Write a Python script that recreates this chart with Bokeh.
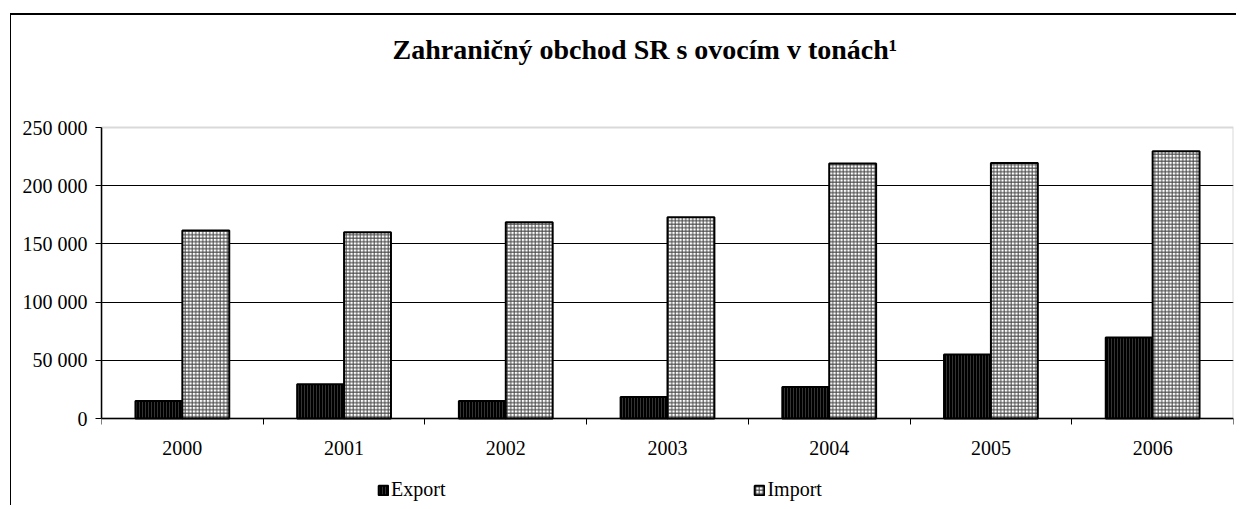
from bokeh.plotting import figure
from bokeh.models import Range1d, FixedTicker, Legend, LegendItem, ColumnDataSource, BoxAnnotation
from bokeh.embed import file_html
from bokeh.resources import INLINE

years = ["2000", "2001", "2002", "2003", "2004", "2005", "2006"]
export_t = [15000, 29500, 15000, 18500, 27000, 55000, 69500]
import_t = [161500, 160000, 168500, 173000, 219000, 219500, 229500]
y_ticks = [0, 50000, 100000, 150000, 200000, 250000]
y_tick_labels = ["0", "50 000", "100 000", "150 000", "200 000", "250 000"]
title_text = "Zahraničný obchod SR s ovocím v tonách\u00b9"

FONT = "Liberation Serif"
W, H = 1226, 492
FRAME_TOP = 51      # canvas px where the frame starts
PX_MAX = 112        # canvas px of the top value axis line
PX_ZERO = 403       # canvas px of the zero line
y_max = y_ticks[-1]
unit = y_max / (PX_ZERO - PX_MAX)
y_end = y_max + (PX_MAX - FRAME_TOP) * unit
y_start = -(H - PX_ZERO) * unit

bw = 0.29
centers = [i + 0.5 for i in range(len(years))]
src = ColumnDataSource(dict(
    xe=[c - bw / 2 for c in centers],
    xi=[c + bw / 2 for c in centers],
    exp=export_t, imp=import_t,
))

p = figure(width=W, height=H, output_backend="svg", toolbar_location=None,
           x_range=Range1d(0, len(years)), y_range=Range1d(y_start, y_end),
           min_border_left=90, min_border_top=FRAME_TOP, min_border_bottom=0,
           min_border_right=4)
p.margin = (13, 0, 0, 10)
p.styles = {"border-top": "2px solid black", "border-left": "1px solid black"}

p.title.text = title_text
p.title.text_font = FONT
p.title.text_font_size = "28px"
p.title.text_font_style = "bold"
p.title.text_color = "black"
p.title.align = "left"
p.title.offset = 291
p.title.standoff = 4

p.outline_line_color = None
# plot-area border (grey, top and right visible)
p.add_layout(BoxAnnotation(left=0, right=len(years), bottom=0, top=y_max,
                           fill_alpha=0, line_color="#808080", line_width=2,
                           level="underlay"))

re = p.vbar(x="xe", top="exp", width=bw, source=src, fill_color="black",
            hatch_pattern="|", hatch_color="#555555", hatch_scale=3, hatch_weight=0.6,
            line_color="black", line_width=2)
ri = p.vbar(x="xi", top="imp", width=bw, source=src, fill_color="white",
            hatch_pattern="+", hatch_color="#444444", hatch_scale=3.5, hatch_weight=1,
            line_color="black", line_width=2)

p.xaxis.fixed_location = 0
p.xaxis.ticker = FixedTicker(ticks=centers, minor_ticks=list(range(len(years) + 1)))
p.xaxis.major_label_overrides = {c: y for c, y in zip(centers, years)}
p.xaxis.major_tick_out = 0
p.xaxis.major_tick_in = 0
p.xaxis.minor_tick_out = 6
p.xaxis.minor_tick_in = 0
p.xaxis.minor_tick_line_color = "black"
p.xaxis.axis_line_color = "black"
p.xaxis.axis_line_width = 1.5
p.xaxis.major_label_standoff = 16
p.xaxis.major_label_text_font = FONT
p.xaxis.major_label_text_font_size = "20px"
p.xaxis.major_label_text_color = "black"

p.yaxis.bounds = (0, y_max)
p.yaxis.ticker = FixedTicker(ticks=y_ticks)
p.yaxis.major_label_overrides = {t: l for t, l in zip(y_ticks, y_tick_labels)}
p.yaxis.major_tick_out = 6
p.yaxis.major_tick_in = 0
p.yaxis.minor_tick_line_color = None
p.yaxis.axis_line_color = "black"
p.yaxis.axis_line_width = 1.5
p.yaxis.major_label_standoff = 8
p.yaxis.major_label_text_font = FONT
p.yaxis.major_label_text_font_size = "20px"
p.yaxis.major_label_text_color = "black"

p.xgrid.grid_line_color = None
p.ygrid.ticker = FixedTicker(ticks=y_ticks[1:-1])
p.ygrid.grid_line_color = "black"
p.ygrid.grid_line_width = 1

legend = Legend(items=[LegendItem(label="Export", renderers=[re]),
                       LegendItem(label="Import", renderers=[ri])],
                orientation="horizontal", location=(276, 6),
                padding=0, margin=0, spacing=308, label_standoff=2,
                glyph_width=12, glyph_height=12,
                border_line_color=None, background_fill_alpha=0,
                label_text_font=FONT, label_text_font_size="20px",
                label_text_color="black")
p.add_layout(legend, "center")

open("out.html", "w").write(file_html(p, INLINE))
